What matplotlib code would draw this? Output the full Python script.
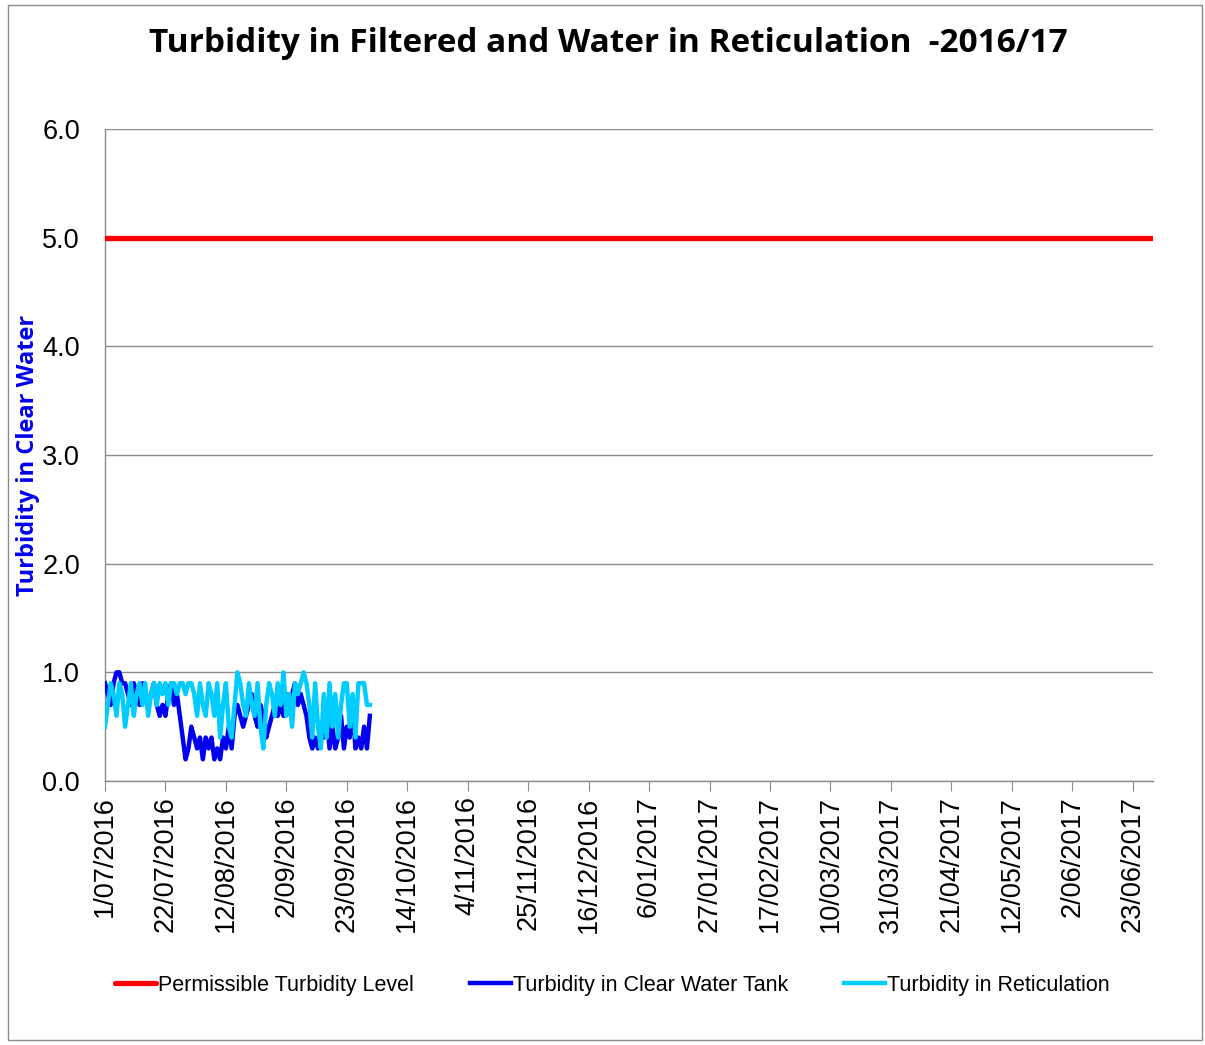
import numpy as np
import pandas as pd
import matplotlib
matplotlib.use("Agg")
import matplotlib.pyplot as plt
from matplotlib.patches import Rectangle

# daily readings, 1 Jul 2016 onwards
start_date = "2016-07-01"
tank = [0.9, 0.8, 0.7, 0.9, 1.0, 1.0, 0.9, 0.9, 0.8, 0.7,
        0.9, 0.8, 0.7, 0.9, 0.8, 0.7, 0.8, 0.9, 0.7, 0.6,
        0.7, 0.6, 0.8, 0.9, 0.7, 0.8, 0.6, 0.4, 0.2, 0.3,
        0.5, 0.4, 0.3, 0.4, 0.2, 0.4, 0.3, 0.4, 0.2, 0.3,
        0.2, 0.4, 0.3, 0.5, 0.3, 0.6, 0.7, 0.6, 0.5, 0.6,
        0.7, 0.8, 0.6, 0.5, 0.7, 0.6, 0.4, 0.5, 0.6, 0.7,
        0.6, 0.7, 0.6, 0.8, 0.7, 0.8, 0.9, 0.7, 0.8, 0.7,
        0.6, 0.4, 0.3, 0.4, 0.3, 0.5, 0.4, 0.6, 0.3, 0.5,
        0.3, 0.4, 0.6, 0.3, 0.5, 0.4, 0.7, 0.3, 0.4, 0.3,
        0.5, 0.3, 0.6]
reticulation = [0.5, 0.7, 0.9, 0.8, 0.6, 0.9, 0.8, 0.5, 0.7, 0.9,
                0.6, 0.8, 0.9, 0.7, 0.9, 0.6, 0.8, 0.9, 0.7, 0.9,
                0.8, 0.9, 0.7, 0.9, 0.9, 0.8, 0.9, 0.9, 0.8, 0.9,
                0.9, 0.8, 0.6, 0.9, 0.7, 0.6, 0.9, 0.8, 0.6, 0.9,
                0.4, 0.7, 0.9, 0.5, 0.4, 0.7, 1.0, 0.9, 0.7, 0.6,
                0.9, 0.7, 0.6, 0.9, 0.5, 0.3, 0.7, 0.9, 0.8, 0.6,
                0.9, 0.7, 1.0, 0.6, 0.8, 0.5, 0.9, 0.8, 0.9, 1.0,
                0.9, 0.7, 0.4, 0.9, 0.5, 0.3, 0.8, 0.4, 0.9, 0.5,
                0.8, 0.4, 0.7, 0.9, 0.9, 0.5, 0.8, 0.4, 0.9, 0.9,
                0.9, 0.7, 0.7]
permissible = 5.0
year_start = "2016-07-01"
year_end = "2017-06-30"

dates = pd.date_range(start_date, periods=len(tank), freq="D")
full_year = pd.date_range(year_start, year_end, freq="D")
tick_dates = pd.date_range(year_start, year_end, freq="21D")

fig = plt.figure(figsize=(12.05, 10.45), dpi=100)
ax = fig.add_axes([0.0871, 0.2526, 0.8697, 0.624])

# chart border
fig.patches.append(Rectangle((8 / 1205, 5 / 1045), 1194 / 1205, 1035 / 1045,
                             transform=fig.transFigure, fill=False,
                             edgecolor="#8c8c8c", linewidth=1.0))

ax.plot(full_year, [permissible] * len(full_year), color="#ff0000", lw=3.8,
        solid_capstyle="round", label="Permissible Turbidity Level", zorder=3)
ax.plot(dates, tank, color="#0000ee", lw=3.2, label="Turbidity in Clear Water Tank", zorder=3)
ax.plot(dates, reticulation, color="#00ccff", lw=3.2, label="Turbidity in Reticulation", zorder=4)

ax.set_xlim(pd.Timestamp(year_start), pd.Timestamp(year_end))
ax.set_ylim(0, 6)
ax.set_yticks(np.arange(0, 6.1, 1.0))
ax.set_yticklabels([f"{v:.1f}" for v in np.arange(0, 6.1, 1.0)])
ax.set_xticks(tick_dates)
ax.set_xticklabels([f"{d.day}/{d.month:02d}/{d.year}" for d in tick_dates], rotation=90)
for lab in ax.get_xticklabels() + ax.get_yticklabels():
    lab.set_family(["Liberation Sans", "DejaVu Sans"])

ax.grid(axis="y", color="#8c8c8c", lw=1.0)
ax.set_axisbelow(True)
for s in ["top", "right"]:
    ax.spines[s].set_visible(False)
for s in ["left", "bottom"]:
    ax.spines[s].set_color("#8c8c8c")
    ax.spines[s].set_linewidth(1.0)
ax.tick_params(axis="y", length=0, pad=18, labelsize=19.5)
ax.tick_params(axis="x", length=7, color="#8c8c8c", direction="out", labelsize=19.5, pad=4)

ax.set_ylabel("Turbidity in Clear Water", color="#0000ee", fontsize=17,
              fontweight="bold", family=["Open Sans", "DejaVu Sans"])
ax.yaxis.set_label_coords(-0.062, 0.5)
fig.text(0.505, 0.958, "Turbidity in Filtered and Water in Reticulation  -2016/17",
         ha="center", va="center", fontsize=24, fontweight="bold",
         family=["Open Sans", "DejaVu Sans"])

leg = fig.legend(loc="center", bbox_to_anchor=(0.508, 0.057), ncol=3, frameon=False,
                 handlelength=1.9, handletextpad=0.1, columnspacing=2.6,
                 prop={"family": ["Liberation Sans", "DejaVu Sans"], "size": 15.5})

fig.savefig("out.png", dpi=100)
